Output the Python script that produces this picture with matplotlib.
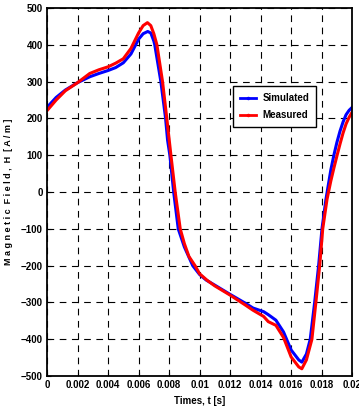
import matplotlib
matplotlib.use('Agg')
import matplotlib.pyplot as plt
from matplotlib import font_manager
from matplotlib.lines import Line2D

names={f.name for f in font_manager.fontManager.ttflist}
narrow='Liberation Sans Narrow' in names
plt.rcParams['font.family']=['Liberation Sans Narrow' if narrow else 'Liberation Sans','DejaVu Sans']
plt.rcParams['font.weight']='bold'
fs=8.5 if narrow else 7

# simulated (blue)
t_sim=[0,0.0006,0.0012,0.002,0.0028,0.0034,0.004,0.0045,0.005,0.0055,0.006,0.0063,0.0066,0.0068,0.007,
       0.00706,0.00746,0.00777,0.0079,0.00805,0.0083,0.0086,0.009,0.00955,0.01,0.01043,0.011,0.012,0.013,
       0.0135,0.0142,0.0145,0.015,0.0155,0.016,0.0165,0.0167,0.017,0.01725,0.01754,0.0178,0.01802,0.01828,
       0.0186,0.0188,0.019,0.0192,0.0194,0.0196,0.0198,0.02]
h_sim=[230,257,277,297,313,322,330,338,351,375,415,430,436,432,410,
       400,300,200,141,100,0,-100,-149,-200,-224,-239,-253,-278,-302,
       -315,-325,-333,-348,-380,-429,-456,-462,-440,-400,-300,-200,-100,-20,
       60,100,135,165,190,210,222,230]

# measured (red)
t_meas=[0,0.0006,0.0012,0.002,0.0028,0.0034,0.004,0.0045,0.005,0.0055,0.006,0.0063,0.00658,0.0068,0.007,
        0.0072,0.00757,0.00785,0.00812,0.0084,0.00873,0.009,0.0093,0.0097,0.01,0.0105,0.011,0.012,0.013,
        0.0135,0.0142,0.0145,0.015,0.0155,0.016,0.0165,0.0167,0.017,0.01736,0.01762,0.01787,0.01807,0.01835,
        0.0186,0.0188,0.019,0.0192,0.0194,0.0196,0.0198,0.02]
h_meas=[221,250,275,297,322,332,340,350,362,390,432,452,460,452,430,
        400,300,200,100,0,-100,-140,-175,-200,-222,-240,-255,-280,-307,
        -321,-338,-352,-362,-395,-448,-475,-480,-456,-400,-300,-200,-100,-20,
        30,65,98,130,160,185,203,217]

xticks=[0,0.002,0.004,0.006,0.008,0.01,0.012,0.014,0.016,0.018,0.02]
xticklabels=['0','0.002','0.004','0.006','0.008','0.01','0.012','0.014','0.016','0.018','0.02']
yticks=list(range(-500,501,100))

fig=plt.figure(figsize=(3.59,4.17),dpi=100)
ax=fig.add_axes([0.131,0.098,0.850,0.883])
ax.plot(t_sim,h_sim,color='#0000ff',lw=2.2,solid_joinstyle='round')
ax.plot(t_meas,h_meas,color='#ff0000',lw=2.2,solid_joinstyle='round')
ax.set_xlim(0,0.02);ax.set_ylim(-500,500)
ax.set_xticks(xticks,xticklabels);ax.set_yticks(yticks)
ax.tick_params(direction='in',length=3,labelsize=fs,pad=3)
for s in ax.spines.values():s.set_linewidth(1.3)
ax.grid(True,color='k',lw=0.8,ls=(0,(6,5)))
ax.set_axisbelow(True)
ax.set_xlabel('Times, t [s]',fontsize=fs,fontweight='bold',labelpad=4)
ax.set_ylabel('M a g n e t i c  F i e l d ,  H  [ A / m ]',fontsize=fs-0.5,fontweight='bold',labelpad=6)
handles=[Line2D([],[],color='#0000ff',lw=2,marker='.',ms=3),Line2D([],[],color='#ff0000',lw=2,marker='.',ms=3)]
leg=ax.legend(handles,['Simulated','Measured'],loc='upper left',bbox_to_anchor=(0.595,0.8),fontsize=fs,
              fancybox=False,framealpha=1,edgecolor='k',handlelength=1.6,borderpad=0.7,labelspacing=0.7,handletextpad=0.7)
leg.get_frame().set_linewidth(1)
fig.savefig('out.png',dpi=100)
